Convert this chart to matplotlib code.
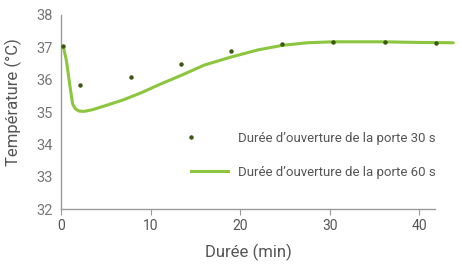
import numpy as np
import matplotlib
matplotlib.use('Agg')
import matplotlib.pyplot as plt
from matplotlib.lines import Line2D
from matplotlib.legend_handler import HandlerLine2D

# door open 30 s (points)
t30 = [0.25, 2.15, 7.85, 13.4, 19.0, 24.7, 30.4, 36.2, 41.9]
temp30 = [37.03, 35.84, 36.08, 36.49, 36.88, 37.1, 37.16, 37.16, 37.14]

# door open 60 s (curve)
t60 = [0.25, 0.6, 1.0, 1.3, 1.6, 2.0, 2.6, 3.5, 5.0, 7.0, 9.0, 11.0, 13.4,
       16.0, 19.0, 22.0, 24.7, 27.5, 30.4, 36.0, 40.0, 43.8]
temp60 = [37.03, 36.6, 35.8, 35.25, 35.1, 35.03, 35.02, 35.07, 35.2, 35.38,
          35.6, 35.85, 36.13, 36.45, 36.7, 36.92, 37.06, 37.14, 37.17,
          37.17, 37.15, 37.14]

label30 = 'Durée d’ouverture de la porte 30 s'
label60 = 'Durée d’ouverture de la porte 60 s'

green = '#8cc63f'
dark = '#3d5714'

plt.rcParams['font.family'] = ['Roboto', 'DejaVu Sans']

fig = plt.figure(figsize=(4.62, 2.67), dpi=100)
ax = fig.add_axes([0.132, 0.217, 0.853, 0.727])

ax.plot(t60, temp60, color=green, lw=2.2, solid_capstyle='round', zorder=2)
ax.plot(t30, temp30, 'o', color=dark, ms=2.2, zorder=3)

ax.set_xlim(0, 44)
ax.set_ylim(32, 38)
ax.set_xticks([0, 10, 20, 30, 40])
ax.set_yticks([32, 33, 34, 35, 36, 37, 38])

for s in ['top', 'right']:
    ax.spines[s].set_visible(False)
ax.spines['bottom'].set_bounds(0, 41.8)
for s in ['left', 'bottom']:
    ax.spines[s].set_color('#9a9a9a')
    ax.spines[s].set_linewidth(1.0)

ax.tick_params(axis='x', length=4, color='#9a9a9a', labelsize=10, labelcolor='#555555', pad=3)
ax.tick_params(axis='y', length=0, labelsize=10.5, labelcolor='#777777', pad=6)

ax.set_xlabel('Durée (min)', fontsize=12, color='#555555')
ax.xaxis.set_label_coords(41.8 / 44 / 2, -0.18)
ax.set_ylabel('Température (°C)', fontsize=12, color='#555555')
ax.yaxis.set_label_coords(-0.1, 0.55)


class LeftMarker(HandlerLine2D):
    def get_xdata(self, legend, xdescent, ydescent, width, height, fontsize):
        x = np.array([-xdescent])
        return x, x


h30 = Line2D([], [], ls='none', marker='o', color=dark, ms=2.2)
h60 = Line2D([], [], color=green, lw=2.2)
leg = ax.legend([h30, h60], [label30, label60], frameon=False,
                loc='upper left', bbox_to_anchor=(191 / 462, 1 - 132 / 267),
                bbox_transform=fig.transFigure, fontsize=9.5,
                handlelength=2.8, handletextpad=0.8, labelspacing=1.6,
                borderaxespad=0, borderpad=0,
                handler_map={h30: LeftMarker()})
for t in leg.get_texts():
    t.set_color('#555555')

fig.savefig('out.png', dpi=100)
